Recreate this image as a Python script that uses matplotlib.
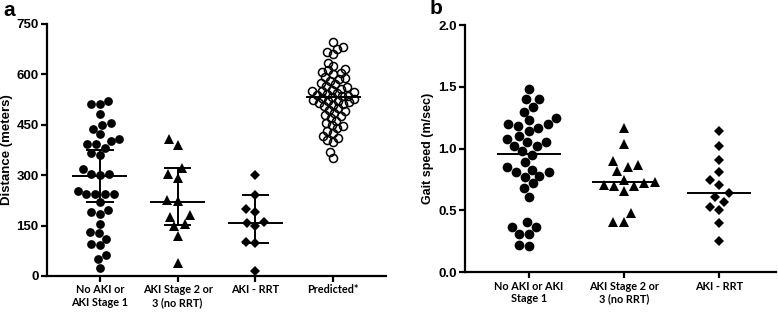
import numpy as np
import matplotlib
matplotlib.use('Agg')
import matplotlib.pyplot as plt

# ---- panel a: 6-minute walk distance (meters) ----
dist_no_aki = [521, 511, 511, 481, 456, 448, 438, 422, 409, 402, 392, 382, 392,
               365, 359, 318, 303, 300, 303, 243, 253, 243, 243, 243, 220, 184,
               196, 190, 154, 127, 131, 111, 91, 94, 62, 51, 25]
dist_aki23 = [407, 390, 322, 293, 303, 223, 226, 177, 182, 149, 155, 119, 38]
dist_rrt = [300, 241, 199, 191, 162, 159, 150, 102, 99, 15]
dist_pred = [697, 682, 675, 668, 660, 635, 625, 615, 612, 608, 603, 600, 592,
             588, 585, 580, 575, 570, 565, 562, 558, 555, 552, 550, 547, 545,
             542, 540, 537, 535, 532, 530, 528, 525, 522, 520, 517, 515, 512,
             510, 505, 500, 495, 490, 485, 480, 475, 470, 462, 455, 450, 445,
             440, 432, 425, 418, 410, 405, 400, 368, 352]
dist_median = [298, 221, 159, 533]
dist_q1 = [220, 152, 99]
dist_q3 = [375, 322, 241]
dist_labels = ['No AKI or\nAKI Stage 1', 'AKI Stage 2 or\n3 (no RRT)',
               'AKI - RRT', 'Predicted*']

# ---- panel b: gait speed (m/sec) ----
gait_no_aki = [1.48, 1.40, 1.40, 1.34, 1.30, 1.25, 1.23, 1.20, 1.20, 1.17, 1.18,
               1.14, 1.08, 1.10, 1.05, 1.05, 1.02, 1.02, 0.98, 0.95, 0.78, 0.81,
               0.83, 0.85, 0.77, 0.89, 0.81, 0.72, 0.68, 0.61, 0.37, 0.41, 0.37,
               0.31, 0.31, 0.21, 0.22]
gait_aki23 = [1.17, 1.04, 0.85, 0.87, 0.90, 0.82, 0.73, 0.71, 0.75, 0.66, 0.70,
              0.70, 0.72, 0.48, 0.41, 0.41]
gait_rrt = [1.14, 1.02, 0.91, 0.81, 0.75, 0.71, 0.64, 0.61, 0.57, 0.53, 0.50,
            0.40, 0.25]
gait_median = [0.96, 0.73, 0.64]
gait_labels = ['No AKI or AKI\nStage 1', 'AKI Stage 2 or\n3 (no RRT)', 'AKI - RRT']

W, H, DPI = 778, 313, 100
TICK_FONT = ['Liberation Sans', 'DejaVu Sans']
CAT_FONT = ['Lato', 'DejaVu Sans']


def swarm_offsets(values, px_per_y, diam, spacing=1.0):
    # simple beeswarm in pixel space, returns x offsets in pixels
    d = diam * spacing
    ys = np.asarray(values, dtype=float) * px_per_y
    order = np.argsort(ys)
    placed = []
    xs = np.zeros(len(ys))
    for i in order:
        y = ys[i]
        cands = [0.0]
        for px, py in placed:
            dy = y - py
            if abs(dy) < d:
                dx = np.sqrt(d * d - dy * dy)
                cands += [px + dx, px - dx]
        cands = sorted(cands, key=lambda c: (abs(c), c))
        for c in cands:
            if all((c - px) ** 2 + (y - py) ** 2 >= d * d - 1e-6 for px, py in placed):
                xs[i] = c
                break
        placed.append((xs[i], y))
    return xs


def px_scale(ax):
    pos = ax.get_position()
    x0, x1 = ax.get_xlim()
    y0, y1 = ax.get_ylim()
    return (pos.width * W / (x1 - x0), pos.height * H / (y1 - y0))


def style_axis(ax):
    for s in ['top', 'right']:
        ax.spines[s].set_visible(False)
    for s in ['left', 'bottom']:
        ax.spines[s].set_linewidth(1.6)
    ax.tick_params(axis='both', direction='out', length=4.5, width=1.6, pad=1.5)
    for lab in ax.get_yticklabels():
        lab.set_fontfamily(TICK_FONT)
        lab.set_fontweight('bold')
        lab.set_fontsize(9.5)
    for lab in ax.get_xticklabels():
        lab.set_fontfamily(CAT_FONT)
        lab.set_fontweight('bold')
        lab.set_fontsize(7.8)


fig = plt.figure(figsize=(W / DPI, H / DPI), dpi=DPI)

# panel a
ax1 = fig.add_axes([47 / W, 37 / H, 339 / W, 252 / H])
ax1.set_xlim(-0.68, 3.68)
ax1.set_ylim(0, 750)
sx, sy = px_scale(ax1)

groups_a = [dist_no_aki, dist_aki23, dist_rrt, dist_pred]
markers_a = [('o', 6.3, 'black', 1.0), ('^', 7.4, 'black', 1.0),
             ('D', 4.6, 'black', 1.0), ('o', 5.8, 'none', 0.75)]
for i, (vals, (m, ms, fc, sp)) in enumerate(zip(groups_a, markers_a)):
    diam = ms * DPI / 72 * (1.41 if m == 'D' else 1.0)
    off = swarm_offsets(vals, sy, diam + 0.3, sp)
    ax1.plot(i + off / sx, vals, linestyle='none', marker=m, ms=ms,
             mfc=fc, mec='black', mew=1.1 if fc == 'none' else 0.0,
             clip_on=False, zorder=3)

for i, med in enumerate(dist_median):
    ax1.plot([i - 0.34, i + 0.34], [med, med], color='black', lw=1.4, zorder=4)
for i, (lo, hi) in enumerate(zip(dist_q1, dist_q3)):
    ax1.plot([i, i], [lo, hi], color='black', lw=1.4, zorder=4)
    ax1.plot([i - 0.165, i + 0.165], [lo, lo], color='black', lw=1.4, zorder=4)
    ax1.plot([i - 0.165, i + 0.165], [hi, hi], color='black', lw=1.4, zorder=4)

ax1.set_yticks([0, 150, 300, 450, 600, 750])
ax1.set_xticks(range(len(dist_labels)))
ax1.set_xticklabels(dist_labels)
ax1.set_ylabel('Distance (meters)', fontsize=9.5, fontweight='bold', family=TICK_FONT)
ax1.yaxis.set_label_coords(-0.1, 0.5)
style_axis(ax1)

# panel b
ax2 = fig.add_axes([465 / W, 40.7 / H, 311 / W, 247.3 / H])
ax2.set_xlim(-0.674, 2.6)
ax2.set_ylim(0, 2.0)
sx, sy = px_scale(ax2)

groups_b = [gait_no_aki, gait_aki23, gait_rrt]
markers_b = [('o', 7.0, 'black'), ('^', 7.6, 'black'), ('D', 5.0, 'black')]
for i, (vals, (m, ms, fc)) in enumerate(zip(groups_b, markers_b)):
    diam = ms * DPI / 72 * (1.41 if m == 'D' else 1.0)
    off = swarm_offsets(vals, sy, diam + 0.3)
    ax2.plot(i + off / sx, vals, linestyle='none', marker=m, ms=ms,
             mfc=fc, mec='black', mew=0.0, clip_on=False, zorder=3)

for i, med in enumerate(gait_median):
    ax2.plot([i - 0.33, i + 0.33], [med, med], color='black', lw=1.4, zorder=4)

ax2.set_yticks([0.0, 0.5, 1.0, 1.5, 2.0])
ax2.set_yticklabels([f'{v:.1f}' for v in [0.0, 0.5, 1.0, 1.5, 2.0]])
ax2.set_xticks(range(len(gait_labels)))
ax2.set_xticklabels(gait_labels)
ax2.set_ylabel('Gait speed (m/sec)', fontsize=9, fontweight='bold', family=TICK_FONT)
ax2.yaxis.set_label_coords(-0.1, 0.5)
style_axis(ax2)

fig.text(9 / W, 1 - 10 / H, 'a', fontsize=15, fontweight='bold', family=TICK_FONT,
         ha='center', va='center')
fig.text(436 / W, 1 - 9 / H, 'b', fontsize=15, fontweight='bold', family=TICK_FONT,
         ha='center', va='center')

fig.savefig('out.png', dpi=DPI)
